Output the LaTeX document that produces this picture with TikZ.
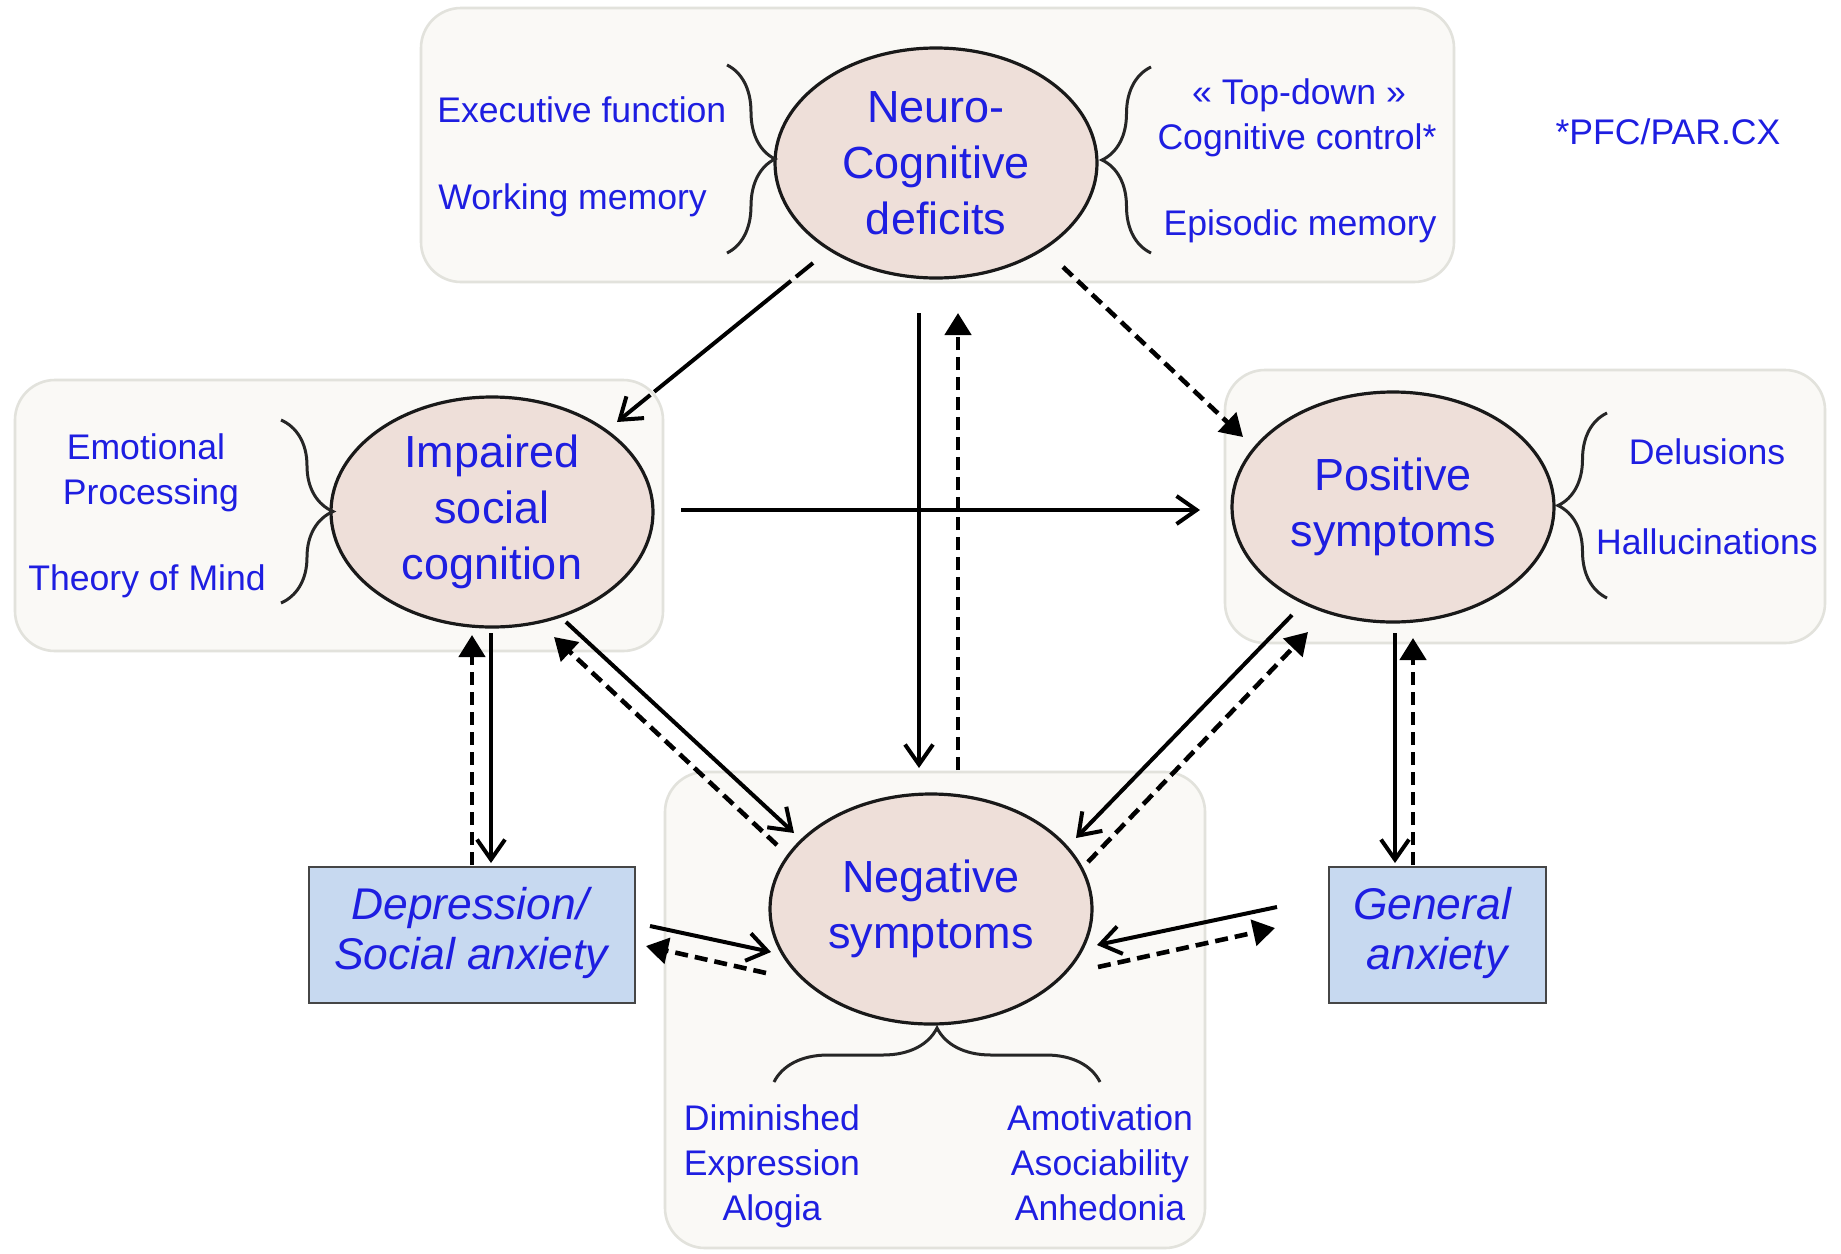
\documentclass[tikz,border=0pt]{standalone}
\usepackage{fontspec}
\setmainfont{Liberation Sans}
\usetikzlibrary{arrows.meta,decorations.pathreplacing,shapes.geometric}
\definecolor{txtblue}{RGB}{30,30,225}
\definecolor{ellfill}{RGB}{238,223,217}
\definecolor{panelfill}{RGB}{250,249,246}
\definecolor{panelline}{RGB}{226,226,220}
\definecolor{boxblue}{RGB}{199,217,240}
\definecolor{boxline}{RGB}{70,70,70}
\tikzset{
  panel/.style={draw=panelline, line width=1.3pt, fill=panelfill, rounded corners=20pt, inner sep=0pt},
  ell/.style={ellipse, draw=black!90, line width=1.6pt, fill=ellfill, text=txtblue, align=center,
    inner sep=0pt, minimum width=161pt, minimum height=115pt, font=\fontsize{22.5}{28}\selectfont},
  bluebox/.style={draw=boxline, line width=0.9pt, fill=boxblue, inner sep=0pt},
  boxtxt/.style={text=txtblue, inner sep=0pt, anchor=base, font=\fontsize{22.2}{25}\selectfont\itshape},
  lbl/.style={text=txtblue, inner sep=0pt, anchor=base, font=\fontsize{17.8}{22.5}\selectfont},
  brc/.style={decorate, decoration={brace, amplitude=#1}, line width=1.5pt, draw=black!85},
  sarrow/.style={line width=2pt, -{Straight Barb[length=10pt,width=14pt,line width=2pt]}},
  darrow/.style={line width=2.3pt, dash pattern=on 6.5pt off 3.5pt, -{Triangle[length=11pt,width=13pt]}},
}
\begin{document}
\begin{tikzpicture}[x=0.5pt,y=-0.5pt]
\fill[white] (0,0) rectangle (1841,1253);
\useasboundingbox (0,0) rectangle (1841,1253);

% panels
\node[panel, minimum width=516.5pt, minimum height=137pt] (toppanel) at (937.5,145) {};
\node[panel, minimum width=324pt, minimum height=135.5pt] (leftpanel) at (339,515.5) {};
\node[panel, minimum width=300pt, minimum height=136.5pt] (rightpanel) at (1525,506.5) {};
\node[panel, minimum width=270pt, minimum height=238pt] (botpanel) at (935,1010) {};

% ellipses
\node[ell] (neuro) at (936,163) {Neuro-\\Cognitive\\deficits};
\node[ell] (impaired) at (492,512) {Impaired\\social\\cognition};
\node[ell] (positive) at (1393,507) {Positive\\symptoms};
\node[ell] (negative) at (931,909) {Negative\\symptoms};

% blue boxes
\node[bluebox, minimum width=163pt, minimum height=68pt] (depr) at (472,935) {};
\node[boxtxt] (deprA) at (470,919) {Depression/};
\node[boxtxt] (deprB) at (471,969) {Social anxiety};
\node[bluebox, minimum width=108.5pt, minimum height=68pt] (genanx) at (1437.5,935) {};
\node[boxtxt] (genA) at (1432,919) {General};
\node[boxtxt] (genB) at (1437,969) {anxiety};

% braces
\draw[brc=24pt] (727,65) -- (727,253);
\draw[brc=24.5pt] (1151,253) -- (1151,67);
\draw[brc=26pt] (281,420) -- (281,603);
\draw[brc=24.5pt] (1607,598) -- (1607,413);
\draw[brc=27pt] (774,1082) -- (1100,1082);

% labels
\node[lbl, anchor=base west] (ef) at (437,122) {Executive function};
\node[lbl, anchor=base west] (wm) at (438,209) {Working memory};
\node[lbl] (td) at (1299,104) {« Top-down »};
\node[lbl] (cc) at (1297,149) {Cognitive control*};
\node[lbl] (epi) at (1300,235) {Episodic memory};
\node[lbl] (pfc) at (1668,144) {*PFC/PAR.CX};
\node[lbl] (emo) at (146,459) {Emotional};
\node[lbl] (proc) at (151,504) {Processing};
\node[lbl] (tom) at (147,590) {Theory of Mind};
\node[lbl] (del) at (1707,464) {Delusions};
\node[lbl] (hal) at (1707,554) {Hallucinations};
\node[lbl] (dim) at (772,1130) {Diminished};
\node[lbl] (expr) at (772,1175) {Expression};
\node[lbl] (alo) at (772,1220) {Alogia};
\node[lbl] (amo) at (1100,1130) {Amotivation};
\node[lbl] (aso) at (1100,1175) {Asociability};
\node[lbl] (anh) at (1100,1220) {Anhedonia};

% connector end points
\coordinate (a1s) at (813,263);  \coordinate (a1e) at (617,422);
\coordinate (a2s) at (1063,267); \coordinate (a2e) at (1243,437);
\coordinate (a3s) at (919,313);  \coordinate (a3e) at (919,768);
\coordinate (b3s) at (958,770);  \coordinate (b3e) at (958,313);
\coordinate (a4s) at (681,510);  \coordinate (a4e) at (1200,510);
\coordinate (a5s) at (566,622);  \coordinate (a5e) at (794,833);
\coordinate (b5s) at (777,845);  \coordinate (b5e) at (554,637);
\coordinate (a6s) at (1292,615); \coordinate (a6e) at (1076,838);
\coordinate (b6s) at (1088,862); \coordinate (b6e) at (1308,632);
\coordinate (a7s) at (491,633);  \coordinate (a7e) at (491,863);
\coordinate (b7s) at (472,865);  \coordinate (b7e) at (472,635);
\coordinate (a8s) at (1395,633); \coordinate (a8e) at (1395,863);
\coordinate (b8s) at (1413,865); \coordinate (b8e) at (1413,638);
\coordinate (a9s) at (650,926);  \coordinate (a9e) at (771,952);
\coordinate (b9s) at (766,973);  \coordinate (b9e) at (646,946);
\coordinate (a10s) at (1277,907); \coordinate (a10e) at (1097,945);
\coordinate (b10s) at (1098,967); \coordinate (b10e) at (1275,928);

% connectors
\draw[sarrow, dash pattern=on 11pt off 3.2pt on 88pt off 2.5pt on 50pt] (a1s) -- (a1e);
\draw[darrow] (a2s) -- (a2e);
\draw[sarrow] (a3s) -- (a3e);
\draw[darrow] (b3s) -- (b3e);
\draw[sarrow] (a4s) -- (a4e);
\draw[sarrow] (a5s) -- (a5e);
\draw[darrow] (b5s) -- (b5e);
\draw[sarrow] (a6s) -- (a6e);
\draw[darrow] (b6s) -- (b6e);
\draw[sarrow] (a7s) -- (a7e);
\draw[darrow] (b7s) -- (b7e);
\draw[sarrow] (a8s) -- (a8e);
\draw[darrow] (b8s) -- (b8e);
\draw[sarrow] (a9s) -- (a9e);
\draw[darrow] (b9s) -- (b9e);
\draw[sarrow] (a10s) -- (a10e);
\draw[darrow] (b10s) -- (b10e);
\end{tikzpicture}
\end{document}
